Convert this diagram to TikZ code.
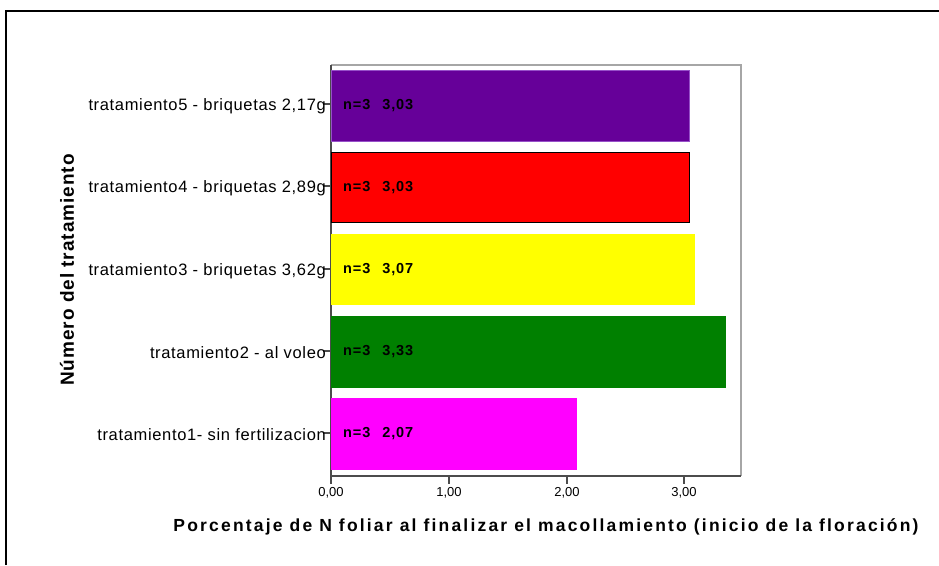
\documentclass[tikz,border=0pt]{standalone}
\usepackage{fontspec}
\setmainfont{Liberation Sans}
\definecolor{barpurple}{RGB}{102,0,153}
\definecolor{barpurpleedge}{RGB}{150,80,200}
\definecolor{barred}{RGB}{255,0,0}
\definecolor{baryellow}{RGB}{255,255,0}
\definecolor{bargreen}{RGB}{0,128,0}
\definecolor{barmagenta}{RGB}{255,0,255}
\begin{document}
\begin{tikzpicture}[x=1pt,y=-1pt,
  catlabel/.style={anchor=east,inner sep=0pt,font=\addfontfeature{LetterSpace=4}\fontsize{16.5}{17}\selectfont},
  vallabel/.style={anchor=west,inner sep=0pt,font=\bfseries\addfontfeature{LetterSpace=6}\fontsize{14.5}{15}\selectfont},
  ticklabel/.style={inner sep=0pt,font=\fontsize{13}{14}\selectfont},
  axtitle/.style={font=\bfseries\addfontfeature{LetterSpace=12.5}\fontsize{17.5}{18}\selectfont}]
\useasboundingbox (0,0) rectangle (939,565);
%\draw[step=50,gray,very thin] (0,0) grid (939,565); %background grid
\draw[line width=2.5pt](6,565) -- (6,11) -- (939,11);

% plot box
\draw[gray!70,line width=1.2pt](331,65) -- (741,65) -- (741,476);
\draw[black!70,line width=1.2pt](331,65) -- (331,476) -- (741,476);

% bars
\draw[fill=barpurple,draw=barpurpleedge] (331,70) rectangle (689,141);
\draw[fill=barred,draw=black,line width=0.8pt] (331,152) rectangle (689,222);
\draw[fill=baryellow,draw=baryellow] (331,234) rectangle (694,304);
\draw[fill=bargreen,draw=bargreen] (331,316) rectangle (725,387);
\draw[fill=barmagenta,draw=barmagenta] (331,398) rectangle (576,469);

% category ticks
\draw[black!70,line width=1.2pt](323,104)--(331,104);
\draw[black!70,line width=1.2pt](323,186)--(331,186);
\draw[black!70,line width=1.2pt](323,269)--(331,269);
\draw[black!70,line width=1.2pt](323,351)--(331,351);
\draw[black!70,line width=1.2pt](323,433)--(331,433);

\node[catlabel] (t5) at (326,106) {tratamiento5 - briquetas 2,17g};
\node[catlabel] (t4) at (326,188) {tratamiento4 - briquetas 2,89g};
\node[catlabel] (t3) at (326,271) {tratamiento3 - briquetas 3,62g};
\node[catlabel] (t2) at (326,353) {tratamiento2 - al voleo};
\node[catlabel] (t1) at (326,435) {tratamiento1- sin fertilizacion};

\node[vallabel] (v5) at (343,106) {n=3\hspace{12pt}3,03};
\node[vallabel] (v4) at (343,188) {n=3\hspace{12pt}3,03};
\node[vallabel] (v3) at (343,270) {n=3\hspace{12pt}3,07};
\node[vallabel] (v2) at (343,352) {n=3\hspace{12pt}3,33};
\node[vallabel] (v1) at (343,434) {n=3\hspace{12pt}2,07};

% x ticks
\draw[black!70,line width=1.5pt](331,476)--(331,484);
\draw[black!70,line width=1.5pt](449,476)--(449,484);
\draw[black!70,line width=1.5pt](567,476)--(567,484);
\draw[black!70,line width=1.5pt](684,476)--(684,484);
\node[ticklabel] (x0) at (331,493) {0,00};
\node[ticklabel] (x1) at (449,493) {1,00};
\node[ticklabel] (x2) at (567,493) {2,00};
\node[ticklabel] (x3) at (684,493) {3,00};

% axis titles
\node[axtitle] (xtitle) at (546,527) {Porcentaje de N foliar al finalizar el macollamiento (inicio de la floración)};
\node[rotate=90,font=\bfseries\addfontfeature{LetterSpace=5}\fontsize{19}{20}\selectfont] (ytitle) at (67,270) {Número del tratamiento};
\end{tikzpicture}
\end{document}
